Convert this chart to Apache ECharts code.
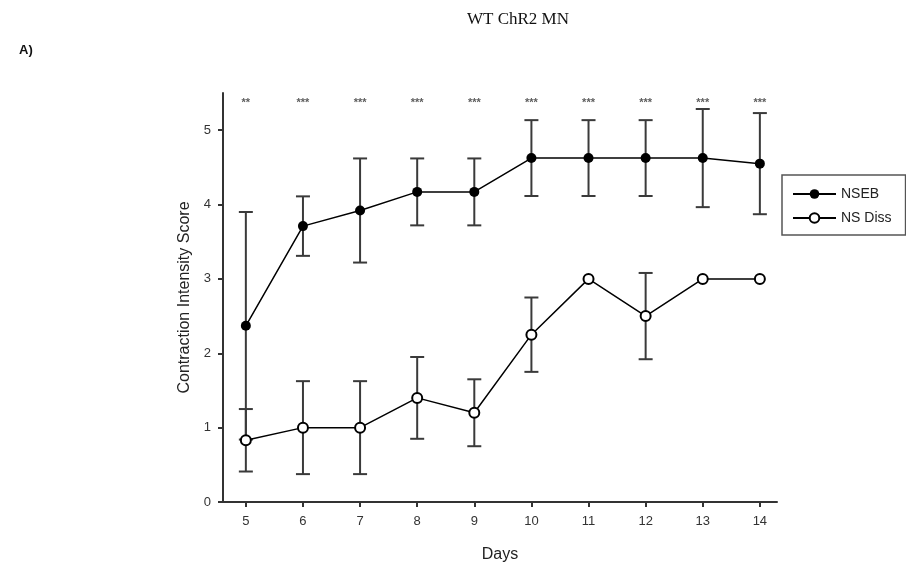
<!DOCTYPE html>
<html>
<head>
<meta charset="utf-8">
<script src="https://cdn.jsdelivr.net/npm/echarts@6/dist/echarts.min.js"></script>
<style>
html,body{margin:0;padding:0;background:#fff;}
#chart{width:906px;height:577px;}
</style>
</head>
<body>
<div id="chart"></div>
<script>
var days = [5, 6, 7, 8, 9, 10, 11, 12, 13, 14];
var nsebMean = [2.37, 3.71, 3.92, 4.17, 4.17, 4.625, 4.625, 4.625, 4.625, 4.55];
var nsebErr = [1.53, 0.40, 0.70, 0.45, 0.45, 0.51, 0.51, 0.51, 0.66, 0.68];
var nsDissMean = [0.83, 1.0, 1.0, 1.4, 1.2, 2.25, 3.0, 2.5, 3.0, 3.0];
var nsDissErr = [0.42, 0.625, 0.625, 0.55, 0.45, 0.5, 0, 0.58, 0, 0];
var stars = ['**', '***', '***', '***', '***', '***', '***', '***', '***', '***'];
var starLevel = 5.37;
var yTicks = [0, 1, 2, 3, 4, 5];

var chart = echarts.init(document.getElementById('chart'), null, {renderer: 'canvas'});

function pairs(m) { return days.map(function (d, i) { return [d, m[i]]; }); }
function triples(m, e) { return days.map(function (d, i) { return [d, m[i], e[i]]; }); }

function errItem(params, api) {
  var x = api.value(0), m = api.value(1), e = api.value(2);
  if (!e) return null;
  var top = api.coord([x, m + e]);
  var bot = api.coord([x, m - e]);
  var hw = 7;
  var st = {stroke: '#3a3a3a', lineWidth: 2};
  return {
    type: 'group',
    children: [
      {type: 'line', shape: {x1: top[0], y1: top[1], x2: bot[0], y2: bot[1]}, style: st},
      {type: 'line', shape: {x1: top[0] - hw, y1: top[1], x2: top[0] + hw, y2: top[1]}, style: st},
      {type: 'line', shape: {x1: bot[0] - hw, y1: bot[1], x2: bot[0] + hw, y2: bot[1]}, style: st}
    ]
  };
}

var option = {
  backgroundColor: '#fff',
  animation: false,
  title: [
    {text: 'WT ChR2 MN', left: 462, top: 6,
     textStyle: {fontFamily: 'Liberation Serif', fontSize: 17, fontWeight: 'normal', color: '#111'}},
    {text: 'A)', left: 14, top: 39,
     textStyle: {fontFamily: 'Liberation Sans', fontSize: 13, fontWeight: 'bold', color: '#111'}}
  ],
  legend: {
    orient: 'vertical', left: 782, top: 175,
    itemWidth: 43, itemHeight: 12, itemGap: 10,
    padding: [12, 14, 10, 10],
    borderColor: '#555', borderWidth: 1.5,
    textStyle: {fontFamily: 'Liberation Sans', fontSize: 14, color: '#222'},
    data: ['NSEB', 'NS Diss']
  },
  grid: {left: 223, right: 129, top: 93, bottom: 75, containLabel: false},
  xAxis: {
    type: 'value', min: 4.6, max: 14.3,
    name: 'Days', nameLocation: 'middle', nameGap: 45,
    nameTextStyle: {fontFamily: 'Liberation Sans', fontSize: 16, color: '#222'},
    axisLine: {show: true, onZero: false, lineStyle: {color: '#333', width: 2}},
    axisTick: {show: true, customValues: days, length: 5, inside: false, lineStyle: {color: '#333', width: 2}},
    axisLabel: {customValues: days, margin: 13, fontFamily: 'Liberation Sans', fontSize: 13, color: '#333'},
    splitLine: {show: false}
  },
  yAxis: {
    type: 'value', min: 0, max: 5.5,
    name: 'Contraction Intensity Score', nameLocation: 'middle', nameGap: 24, nameRotate: 90,
    nameTextStyle: {fontFamily: 'Liberation Sans', fontSize: 16, color: '#222'},
    axisLine: {show: true, onZero: false, lineStyle: {color: '#333', width: 2}},
    axisTick: {show: true, customValues: yTicks, length: 5, lineStyle: {color: '#333', width: 2}},
    axisLabel: {customValues: yTicks, margin: 12, fontFamily: 'Liberation Sans', fontSize: 13, color: '#333'},
    splitLine: {show: false}
  },
  series: [
    {type: 'custom', name: 'NSEB err', renderItem: errItem, data: triples(nsebMean, nsebErr),
     encode: {x: 0, y: 1}, z: 2, silent: true},
    {type: 'custom', name: 'NS Diss err', renderItem: errItem, data: triples(nsDissMean, nsDissErr),
     encode: {x: 0, y: 1}, z: 2, silent: true},
    {type: 'line', name: 'NSEB', data: pairs(nsebMean), symbol: 'circle', symbolSize: 10,
     color: '#000', lineStyle: {color: '#000', width: 1.5}, itemStyle: {color: '#000'}, z: 4},
    {type: 'line', name: 'NS Diss', data: pairs(nsDissMean), symbol: 'emptyCircle', symbolSize: 10,
     color: '#000', lineStyle: {color: '#000', width: 1.5}, itemStyle: {color: '#000', borderWidth: 1.5}, z: 4},
    {type: 'scatter', name: 'sig', symbolSize: 0, silent: true,
     data: days.map(function (d, i) { return [d, starLevel, stars[i]]; }),
     label: {show: true, position: 'inside', formatter: function (p) { return p.value[2]; },
             fontFamily: 'Liberation Sans', fontSize: 11, fontWeight: 'bold', color: '#333'}, z: 5}
  ]
};
chart.setOption(option);
</script>
</body>
</html>
